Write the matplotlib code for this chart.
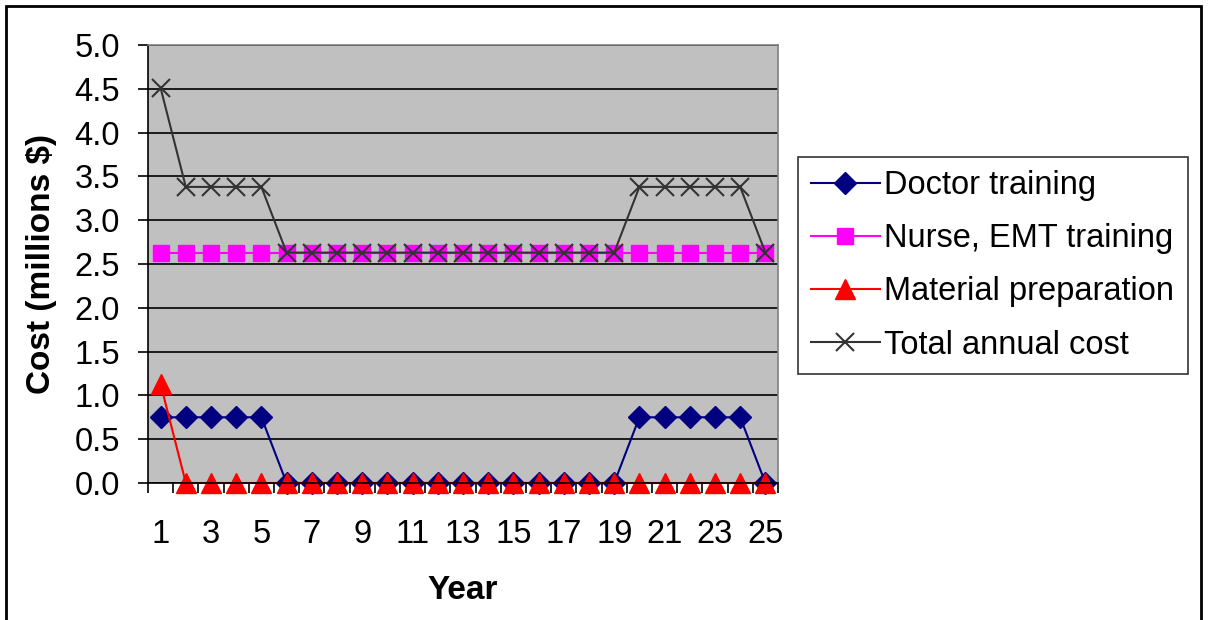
import numpy as np
import matplotlib.pyplot as plt
from matplotlib.patches import Rectangle

years = list(range(1, 26))
doctor = [0.75] * 5 + [0.0] * 14 + [0.75] * 5 + [0.0]
nurse = [2.63] * 25
material = [1.13] + [0.0] * 24
total = [4.51] + [3.38] * 4 + [2.63] * 14 + [3.38] * 5 + [2.63]

plt.rcParams['font.family'] = ['Liberation Sans', 'DejaVu Sans']

fig = plt.figure(figsize=(12.08, 6.2), dpi=100)
ax = fig.add_axes([148 / 1208, 1 - 483 / 620, 630 / 1208, 438 / 620])
ax.set_facecolor('#C0C0C0')

ax.plot(years, doctor, color='#000080', lw=1.5, marker='D', ms=11, label='Doctor training', clip_on=False)
ax.plot(years, nurse, color='#FF00FF', lw=1.5, marker='s', ms=12, label='Nurse, EMT training', clip_on=False)
ax.plot(years, material, color='#FF0000', lw=1.5, marker='^', ms=14, label='Material preparation', clip_on=False)
ax.plot(years, total, color='#333333', lw=1.5, marker='x', ms=13, mew=1.5, label='Total annual cost', clip_on=False)

ax.set_xlim(0.5, 25.5)
ax.set_ylim(0, 5)
ax.set_yticks(np.arange(0, 5.01, 0.5))
ax.set_yticklabels(['%.1f' % v for v in np.arange(0, 5.01, 0.5)])
ax.set_xticks(range(1, 26, 2))
ax.set_xticks(np.arange(0.5, 25.6, 1), minor=True)
ax.tick_params(axis='x', which='major', length=0, pad=26, labelsize=23.5)
ax.tick_params(axis='x', which='minor', length=7, width=1.2, direction='out')
ax.tick_params(axis='y', length=7, width=1.2, labelsize=23.5, pad=13)
ax.yaxis.grid(True, color='black', lw=1.2)
ax.set_axisbelow(True)
for s in ax.spines.values():
    s.set_linewidth(1.2)
    s.set_color('black')
ax.spines['right'].set_color('#808080')
ax.spines['top'].set_color('#808080')

ax.set_xlabel('Year', fontsize=24, fontweight='bold', labelpad=18)
ax.set_ylabel('Cost (millions $)', fontsize=24, fontweight='bold', labelpad=13)

leg = fig.legend(loc='upper left', bbox_to_anchor=(798 / 1208, 1 - 157 / 620),
                 fontsize=23.5, frameon=True, fancybox=False, edgecolor='black',
                 handlelength=2.1, handletextpad=0.15, labelspacing=0.68,
                 borderpad=0.4, borderaxespad=0)
leg.get_frame().set_linewidth(1.2)

fig.patches.append(Rectangle((6 / 1208, -0.1), 1195 / 1208, 1.1 - 6 / 620,
                             transform=fig.transFigure, fill=False,
                             edgecolor='black', lw=2))

fig.savefig('out.png', dpi=100)
